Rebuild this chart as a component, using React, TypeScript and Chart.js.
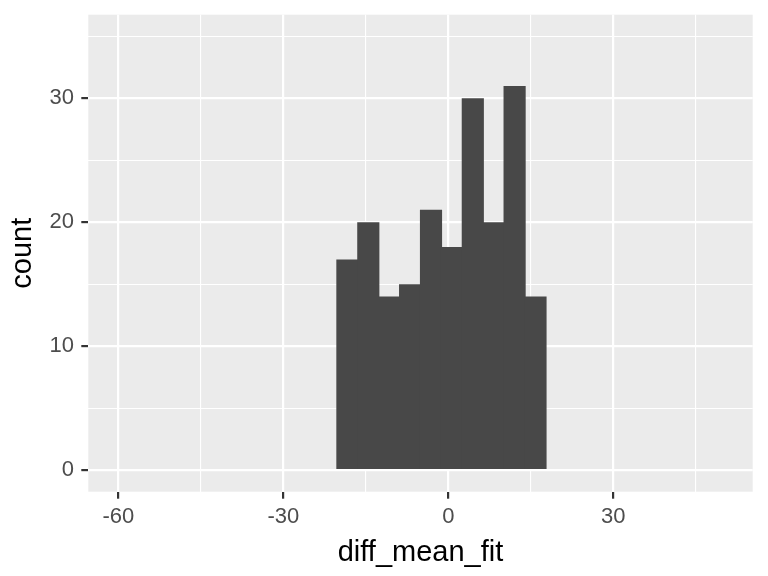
import React, { useEffect, useRef } from "react";
import { Chart, registerables } from "chart.js";

Chart.register(...registerables);

// Histogram of diff_mean_fit
const binStarts = [-20.24, -16.44, -12.64, -8.84, -5.04, -1.24, 2.56, 6.36, 10.16, 13.96];
const binWidth = 3.8;
const counts = [17, 20, 14, 15, 21, 18, 30, 20, 31, 14];

const xMajorTicks = [-60, -30, 0, 30];
const xMinorTicks = [-45, -15, 15, 45];
const yMajorTicks = [0, 10, 20, 30];
const yMinorTicks = [5, 15, 25, 35];
const xLimits = [-65.45, 55.35];
const yLimits = [-1.75, 36.75];

const xTitle = "diff_mean_fit";
const yTitle = "count";

const FONT = "'Liberation Sans', Arial, Helvetica, sans-serif";
const PANEL_BG = "#EBEBEB";
const BAR_COLOR = "#484848";

const panelBg = {
  id: "panelBg",
  beforeDraw(chart: any) {
    const { ctx, chartArea } = chart;
    ctx.save();
    ctx.fillStyle = PANEL_BG;
    ctx.fillRect(chartArea.left, chartArea.top, chartArea.right - chartArea.left, chartArea.bottom - chartArea.top);
    ctx.restore();
  },
};

export default function App() {
  const ref = useRef<HTMLCanvasElement | null>(null);

  useEffect(() => {
    if (!ref.current) return;
    const data = binStarts.map((s, i) => ({ x: s + binWidth / 2, y: counts[i] }));
    const xAll = [...xMajorTicks, ...xMinorTicks].sort((a, b) => a - b);
    const yAll = [...yMajorTicks, ...yMinorTicks].sort((a, b) => a - b);
    const isMajorX = (c: any) => !!(c && c.tick && xMajorTicks.includes(c.tick.value));
    const isMajorY = (c: any) => !!(c && c.tick && yMajorTicks.includes(c.tick.value));

    const chart = new Chart(ref.current, {
      type: "bar",
      data: {
        datasets: [
          {
            data: data as any,
            backgroundColor: BAR_COLOR,
            borderWidth: 0,
            barPercentage: 1.06,
            categoryPercentage: 1,
          },
        ],
      },
      options: {
        animation: false,
        responsive: false,
        devicePixelRatio: 1,
        layout: { padding: { top: 14.7, right: 15.3, left: 0, bottom: 0 } },
        plugins: { legend: { display: false }, tooltip: { enabled: false } },
        scales: {
          x: {
            type: "linear",
            min: xLimits[0],
            max: xLimits[1],
            offset: false,
            border: { display: false },
            afterBuildTicks: (scale: any) => {
              scale.ticks = xAll.map((v) => ({ value: v }));
            },
            afterFit: (scale: any) => {
              scale.height = 84.3;
              scale.paddingLeft = 0;
              scale.paddingRight = 0;
            },
            grid: {
              offset: false,
              color: "#FFFFFF",
              lineWidth: (c: any) => (isMajorX(c) ? 2.2 : 1.1),
              tickColor: (c: any) => (isMajorX(c) ? "#333333" : "rgba(0,0,0,0)"),
              tickWidth: 2.2,
              tickLength: 7,
              drawTicks: true,
            },
            ticks: {
              autoSkip: false,
              maxRotation: 0,
              padding: 5,
              color: "#4D4D4D",
              font: { family: FONT, size: 22 },
              callback: (v: any) => (xMajorTicks.includes(Number(v)) ? String(v) : ""),
            },
            title: {
              display: true,
              text: xTitle,
              color: "#000000",
              font: { family: FONT, size: 29 },
              padding: { top: 0, bottom: 5.3 },
            },
          },
          y: {
            type: "linear",
            min: yLimits[0],
            max: yLimits[1],
            border: { display: false },
            afterBuildTicks: (scale: any) => {
              scale.ticks = yAll.map((v) => ({ value: v }));
            },
            afterFit: (scale: any) => {
              scale.width = 88.3;
              scale.paddingTop = 0;
              scale.paddingBottom = 0;
            },
            grid: {
              offset: false,
              color: "#FFFFFF",
              lineWidth: (c: any) => (isMajorY(c) ? 2.2 : 1.1),
              tickColor: (c: any) => (isMajorY(c) ? "#333333" : "rgba(0,0,0,0)"),
              tickWidth: 2.2,
              tickLength: 7,
              drawTicks: true,
            },
            ticks: {
              autoSkip: false,
              padding: 7.4,
              color: "#4D4D4D",
              font: { family: FONT, size: 22 },
              callback: (v: any) => (yMajorTicks.includes(Number(v)) ? String(v) : ""),
            },
            title: {
              display: true,
              text: yTitle,
              color: "#000000",
              font: { family: FONT, size: 29 },
              padding: { top: 5.9, bottom: 0 },
            },
          },
        },
      },
      plugins: [panelBg],
    });
    return () => chart.destroy();
  }, []);

  return (
    <div style={{ position: "absolute", left: 0, top: 0, width: 768, height: 576, background: "#FFFFFF" }}>
      <canvas ref={ref} width={768} height={576} style={{ display: "block", width: 768, height: 576 }} />
    </div>
  );
}
